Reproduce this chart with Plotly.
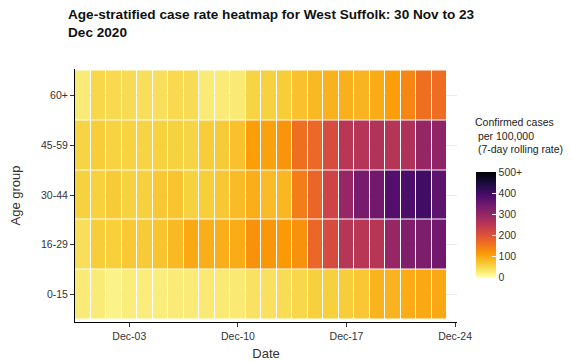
import pandas as pd
import plotly.graph_objects as go

# 7-day rolling case rate per 100,000 by age group, 30 Nov - 23 Dec 2020
dates = pd.date_range("2020-11-30", "2020-12-23", freq="D")
age_groups = ["0-15", "16-29", "30-44", "45-59", "60+"]

rate_0_15 = [24, 24, 15, 22, 22, 22, 24, 24, 27, 27, 27, 35, 37, 42, 48, 56, 56, 60, 66, 86, 86, 95, 98, 98]
rate_16_29 = [40, 60, 57, 64, 62, 68, 80, 98, 92, 92, 94, 122, 116, 112, 122, 170, 212, 255, 252, 254, 295, 325, 328, 342]
rate_30_44 = [55, 55, 62, 54, 56, 66, 68, 54, 58, 66, 78, 92, 78, 82, 145, 172, 225, 295, 335, 342, 378, 385, 400, 365]
rate_45_59 = [52, 60, 53, 53, 52, 55, 54, 52, 60, 62, 72, 108, 104, 118, 160, 168, 210, 252, 258, 262, 256, 265, 298, 305]
rate_60_plus = [25, 48, 46, 43, 40, 40, 46, 43, 25, 24, 26, 52, 54, 60, 72, 80, 88, 90, 84, 95, 108, 135, 160, 162]

legend_ticks = [0, 100, 200, 300, 400, 500]
legend_labels = ["0", "100", "200", "300", "400", "500+"]

z = [rate_0_15, rate_16_29, rate_30_44, rate_45_59, rate_60_plus]

# the page body adds an 8px margin, so the figure is drawn 8px smaller
W, H = 563, 353

fig = go.Figure()

fig.add_trace(go.Heatmap(
    x=dates,
    y=age_groups,
    z=z,
    zmin=0,
    zmax=500,
    colorscale="Inferno",
    reversescale=True,
    xgap=1,
    ygap=1,
    colorbar=dict(
        thickness=20,
        len=125,
        lenmode="pixels",
        x=1.05,
        xanchor="left",
        xpad=0,
        y=0.385,
        yanchor="middle",
        outlinewidth=0,
        tickvals=legend_ticks,
        ticktext=legend_labels,
        ticks="inside",
        ticklen=4,
        tickcolor="white",
        tickfont=dict(size=10.5, color="#333333"),
    ),
    hovertemplate="%{x|%d %b}<br>%{y}: %{z}<extra></extra>",
))

# legend title, placed by hand
fig.add_annotation(
    text="Confirmed cases<br>\u00a0per 100,000<br>\u00a0(7-day rolling rate)",
    xref="paper", yref="paper",
    x=1.05, y=0.822,
    xanchor="left", yanchor="top",
    align="left",
    showarrow=False,
    xshift=-3,
    font=dict(size=10.5, color="#222222"),
)

fig.update_layout(
    width=W,
    height=H,
    title=dict(
        text="<b>Age-stratified case rate heatmap for West Suffolk: 30 Nov to 23<br>Dec 2020</b>",
        x=60 / W,
        xanchor="left",
        xref="container",
        y=1 - 11 / H,
        yanchor="top",
        yref="container",
        font=dict(size=13.6, color="#111111"),
    ),
    font=dict(family="Liberation Sans, Arial, sans-serif", color="#333333"),
    paper_bgcolor="white",
    plot_bgcolor="white",
    margin=dict(l=67, r=114, t=61, b=39, autoexpand=False),
    xaxis=dict(
        range=["2020-11-29 12:00", "2020-12-24 03:00"],
        tickvals=["2020-12-03", "2020-12-10", "2020-12-17", "2020-12-24"],
        tickformat="%b-%d",
        showgrid=False,
        zeroline=False,
        showline=True,
        linecolor="black",
        linewidth=1,
        ticks="outside",
        ticklen=4,
        tickcolor="#333333",
        tickfont=dict(size=10.5),
        automargin=False,
        title=dict(text="Date", font=dict(size=13), standoff=9),
    ),
    yaxis=dict(
        range=[-0.55, 4.53],
        showgrid=True,
        gridcolor="#ebebeb",
        zeroline=False,
        showline=True,
        linecolor="black",
        linewidth=1,
        ticks="outside",
        ticklen=4,
        tickcolor="#333333",
        tickfont=dict(size=10.5),
        automargin=False,
        title=dict(text="Age group", font=dict(size=13), standoff=18),
    ),
)

fig.write_html("out.html")
